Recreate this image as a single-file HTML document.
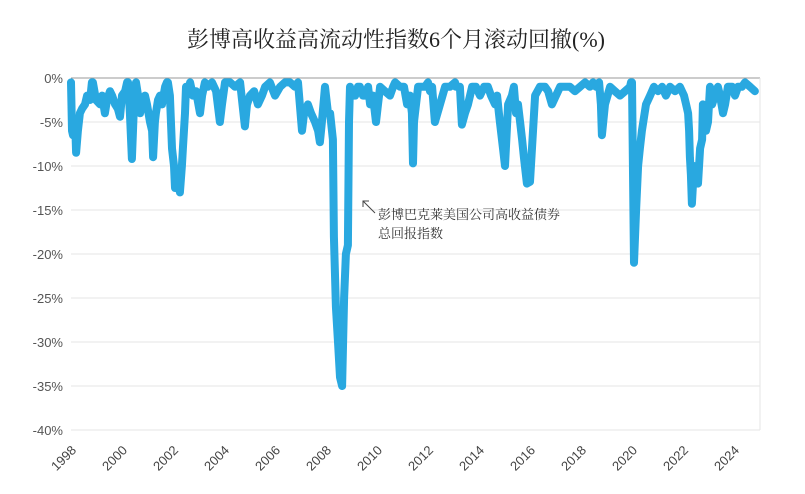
<!DOCTYPE html>
<html><head><meta charset="utf-8"><style>
body{margin:0;background:#fff;width:805px;height:494px;overflow:hidden}
svg{display:block}
</style></head><body>
<svg id="chart" width="805" height="494" xmlns="http://www.w3.org/2000/svg">
<text x="396" y="47" text-anchor="middle" font-family="'Liberation Serif','Noto Serif CJK SC',serif" font-size="22" fill="#222">彭博高收益高流动性指数6个月滚动回撤(%)</text>
<g id="grid"></g><g id="yaxis"></g><g id="xaxis"></g><g id="series"></g>
<g>
<line x1="375" y1="213" x2="363" y2="201" stroke="#444" stroke-width="1"/>
<polyline points="363,207 363,201 369,201" fill="none" stroke="#444" stroke-width="1"/>
<text x="378" y="219" font-family="'Liberation Serif','Noto Serif CJK SC',serif" font-size="13" fill="#333">彭博巴克莱美国公司高收益债券</text>
<text x="378" y="238" font-family="'Liberation Serif','Noto Serif CJK SC',serif" font-size="13" fill="#333">总回报指数</text>
</g>
</svg>
<script>
const yTicks=[0,-5,-10,-15,-20,-25,-30,-35,-40];
const xTickYears=[1998,2000,2002,2004,2006,2008,2010,2012,2014,2016,2018,2020,2022,2024];
const pixX=[71,72,73,75,76,78,80,82,85,87,90,92,93,96,100,102,105,107,110,112,115,118,120,122,125,127,128,130,132,134,136,138,140,142,145,147,150,152,153,155,156,158,160,162,165,167,168,170,172,174,175,177,180,182,183,185,186,188,190,193,196,200,202,205,208,212,216,220,222,225,230,235,240,245,247,250,254,258,262,265,270,275,280,285,290,295,298,302,304,308,311,315,318,320,322,325,327,328,330,333,334,336,338,340,342,344,346,348,349,350,352,355,358,360,363,365,368,370,373,376,378,380,385,390,393,395,400,404,407,410,412,413,414,415,418,422,425,428,430,432,435,440,445,450,455,456,458,460,462,465,468,472,476,480,484,488,491,495,497,499,500,503,505,508,512,514,516,518,520,522,524,525,527,530,535,540,543,545,548,552,556,560,565,570,575,580,585,590,593,596,599,601,602,605,610,615,620,625,630,631,632,634,636,638,640,642,646,650,654,658,662,666,670,675,680,684,686,688,689,690,691,692,694,695,697,698,700,702,703,706,708,710,712,715,718,720,723,725,728,732,735,738,742,745,750,755,760];
const years=pixX.map(p=>+(1998+(p-71)/25.5).toFixed(2));
const drawdown=[-0.5,-6,-6.5,-5,-8.5,-6,-4,-3.5,-3,-2,-2.5,-0.5,-0.5,-2.5,-3,-2,-4,-2.5,-1.5,-2,-3,-3.5,-4.4,-2,-1.5,-0.5,-0.5,-4,-9.2,-3,-0.5,-2,-4,-3,-2,-3,-5,-6,-9,-5,-4,-2.5,-2,-3,-1,-0.5,-0.5,-2,-8,-10,-12.5,-11,-13,-10,-8,-4,-1,-1.5,-0.5,-2,-1.5,-4,-2,-0.5,-1,-0.5,-1.5,-5,-3,-0.5,-0.5,-1,-0.5,-5.5,-3,-2,-1.5,-3,-2,-1,-0.5,-2,-1,-0.5,-0.5,-1,-0.5,-6,-4,-3,-4,-5,-6,-7.3,-5,-1,-3,-4,-4,-7,-18,-26,-30,-34,-35,-25,-20,-19,-5,-1,-2,-2,-1,-1,-2,-2,-1,-3,-2,-5,-3,-1,-1.5,-2,-1,-0.5,-1,-1,-3,-2,-4,-9.7,-5,-4,-1,-1,-1,-0.5,-1.5,-1,-5,-3,-1,-1,-0.5,-1,-1,-1,-5.3,-4,-3,-1,-1,-2,-1,-1,-2,-3,-2,-4,-5,-8,-10,-3,-2,-1,-4,-3,-5,-7,-9,-10,-12,-11.8,-2,-1,-1,-1,-1.5,-3,-2,-1,-1,-1,-1.5,-1,-0.5,-1,-0.5,-1,-0.5,-3,-6.5,-3,-1,-1.5,-2,-1.5,-1,-0.5,-0.5,-21,-15,-10,-8,-6,-3,-2,-1,-1.5,-1,-2,-1,-1.5,-1,-2,-3,-4,-6,-9,-11,-14.3,-10,-12,-10,-12,-8,-7,-3,-6,-5,-1,-3,-2,-1,-2,-4,-3,-1,-1,-2,-1,-1,-0.5,-1,-1.5];
const X0=71,X1=760,Y0=78,PPP=8.8;
const xs=y=>X0+(y-1998)*25.5;
const ys=v=>Y0-v*PPP;
const NS="http://www.w3.org/2000/svg";
function mk(t,a,p){const e=document.createElementNS(NS,t);for(const k in a)e.setAttribute(k,a[k]);p.appendChild(e);return e;}
const grid=document.getElementById('grid'),ya=document.getElementById('yaxis'),xa=document.getElementById('xaxis'),ser=document.getElementById('series');
yTicks.forEach(v=>{
 const l=mk('line',{x1:X0,x2:X1,y1:ys(v),y2:ys(v),stroke:v===0?'#999':'#e6e6e6','stroke-width':1},grid);
 
 
 const t=mk('text',{x:63,y:ys(v)+5,'text-anchor':'end','font-family':'Liberation Sans,sans-serif','font-size':13,fill:'#555'},ya);
 t.textContent=v+'%';
 
 
});
mk('line',{x1:X1,x2:X1,y1:Y0,y2:ys(-40),stroke:'#e6e6e6'},grid);
xTickYears.forEach(yr=>{
 const x=xs(yr)+6,y=451;
 const t=mk('text',{x:x,y:y,'text-anchor':'end','font-family':'Liberation Sans,sans-serif','font-size':13,fill:'#444',transform:`rotate(-45 ${x} ${y})`},xa);
 t.textContent=yr;
 
 
});
const pts=years.map((y,i)=>xs(y).toFixed(1)+','+ys(drawdown[i]).toFixed(1)).join(' ');
const line=mk('polyline',{points:pts,fill:'none',stroke:'#29a8e0','stroke-width':8,'stroke-linejoin':'round','stroke-linecap':'round'},ser);


</script>
</body></html>
